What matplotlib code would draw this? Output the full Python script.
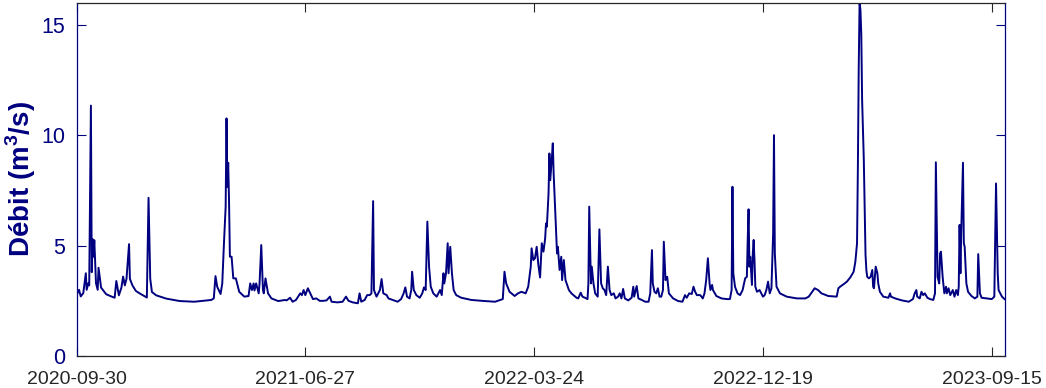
import numpy as np
import matplotlib
matplotlib.use('Agg')
import matplotlib.pyplot as plt
import matplotlib.dates as mdates

# Débit journalier (m3/s), jours comptés depuis le 2020-09-30
start_date = '2020-09-30'
end_date = '2023-09-30'
days = [
    0, 3, 5, 8, 11, 12, 14, 15, 17, 18, 19, 20, 21, 23, 25, 26, 29, 35, 41, 45,
    47, 50, 53, 55, 57, 59, 62, 63, 66, 70, 74, 80, 83, 85, 87, 89, 94, 106, 122,
    139, 159, 162, 164, 166, 170, 172, 174, 176, 177, 178, 179, 180, 181, 183, 185,
    188, 192, 198, 203, 205, 207, 209, 210, 212, 215, 216, 218, 220, 221, 223, 226,
    230, 238, 246, 248, 252, 255, 259, 264, 266, 268, 270, 273, 275, 279, 283, 287,
    291, 295, 299, 301, 308, 314, 318, 321, 326, 332, 334, 336, 340, 343, 346, 348,
    350, 351, 354, 358, 360, 362, 366, 368, 373, 379, 383, 386, 388, 390, 393, 395,
    396, 398, 401, 405, 408, 410, 412, 414, 416, 418, 421, 425, 427, 429, 431, 433,
    434, 436, 438, 439, 441, 443, 445, 448, 454, 466, 482, 494, 503, 505, 507, 511,
    517, 521, 525, 530, 533, 536, 537, 539, 541, 543, 545, 547, 549, 551, 553, 554,
    555, 557, 558, 559, 561, 562, 563, 565, 567, 568, 570, 572, 573, 575, 577, 581,
    584, 590, 592, 595, 597, 600, 603, 604, 605, 607, 608, 610, 612, 615, 617, 619,
    621, 623, 625, 627, 629, 631, 634, 636, 639, 641, 643, 645, 647, 651, 655, 657,
    658, 661, 663, 667, 671, 675, 677, 679, 680, 682, 684, 686, 688, 690, 692, 693,
    695, 697, 699, 704, 710, 715, 718, 720, 723, 726, 728, 730, 732, 736, 739, 741,
    743, 745, 747, 748, 750, 751, 755, 761, 767, 771, 773, 774, 775, 777, 780, 783,
    786, 789, 791, 792, 793, 794, 795, 797, 798, 799, 800, 801, 803, 806, 808, 810,
    812, 814, 816, 818, 820, 822, 823, 824, 826, 830, 838, 850, 860, 864, 868, 871,
    875, 879, 887, 897, 899, 901, 905, 909, 913, 917, 919, 921, 922, 923, 924, 925,
    926, 927, 929, 930, 931, 932, 933, 935, 937, 939, 940, 941, 943, 945, 946, 948,
    952, 958, 960, 961, 966, 974, 982, 987, 989, 991, 992, 995, 997, 999, 1001, 1004,
    1007, 1011, 1013, 1014, 1016, 1018, 1019, 1020, 1022, 1024, 1026, 1027, 1029,
    1031, 1034, 1036, 1038, 1040, 1041, 1042, 1043, 1044, 1046, 1047, 1048, 1050,
    1052, 1056, 1060, 1063, 1064, 1066, 1068, 1074, 1080, 1083, 1085, 1087, 1088,
    1092, 1095,
]
flow = [
    2.76, 3.0, 2.7, 2.85, 3.75, 3.0, 3.3, 3.2, 11.35, 3.8, 5.3, 4.5, 5.25, 3.3, 3.0, 4.0, 3.1, 2.8, 2.7, 2.64,
    3.4, 2.75, 3.1, 3.6, 3.2, 3.5, 5.07, 3.5, 3.2, 2.95, 2.85, 2.72, 2.65, 7.17, 3.5, 2.9, 2.75, 2.6, 2.49,
    2.46, 2.54, 2.61, 3.62, 3.14, 2.81, 3.29, 5.11, 6.77, 10.77, 7.67, 8.76, 7.0, 4.5, 4.5, 3.52,
    3.52, 2.91, 2.69, 2.72, 3.29, 2.99, 3.29, 2.97, 3.29, 2.84, 3.29, 5.03, 2.99, 2.84, 3.52, 2.84,
    2.61, 2.49, 2.54, 2.52, 2.64, 2.46, 2.54, 2.84, 2.76, 2.99, 2.76, 3.07, 2.91, 2.58, 2.61, 2.5,
    2.5, 2.52, 2.69, 2.46, 2.43, 2.46, 2.69, 2.5, 2.43, 2.39, 2.84, 2.46, 2.54, 2.76, 2.76, 2.84,
    7.02, 2.99, 2.69, 2.99, 3.49, 2.84, 2.76, 2.61, 2.54, 2.46, 2.58, 2.84, 3.11, 2.69, 2.61, 2.99,
    3.82, 2.99, 2.76, 2.64, 2.84, 3.11, 2.99, 6.09, 4.05, 3.14, 2.84, 2.69, 2.84, 2.99, 2.76, 3.75,
    3.29, 3.75, 5.11, 3.75, 4.95, 3.75, 2.99, 2.76, 2.64, 2.54, 2.49, 2.46, 2.58, 3.82, 3.29, 2.91,
    2.72, 2.84, 2.91, 2.84, 3.14, 4.05, 4.88, 4.35, 4.43, 4.95, 4.12, 3.56, 5.11, 4.73, 5.33, 6.01,
    5.86, 7.37, 9.18, 7.97, 9.03, 9.64, 8.28, 6.46, 4.65, 4.95, 3.9, 4.5, 3.44, 4.35, 3.44, 2.99,
    2.84, 2.64, 2.61, 2.87, 2.69, 2.64, 2.58, 3.29, 6.77, 3.29, 4.05, 3.29, 2.84, 2.69, 5.74, 3.29,
    3.07, 2.99, 2.76, 4.05, 2.99, 2.76, 2.84, 2.61, 2.69, 2.84, 2.61, 3.04, 2.61, 2.52, 2.64, 3.14,
    2.69, 3.17, 2.61, 2.54, 2.46, 2.46, 2.84, 4.8, 3.29, 2.91, 2.84, 3.07, 2.69, 2.69, 2.99, 5.18,
    3.44, 3.59, 2.84, 2.61, 2.49, 2.46, 2.76, 2.64, 2.84, 2.81, 3.14, 2.91, 2.76, 2.76, 2.61, 2.84,
    3.44, 4.43, 3.29, 2.99, 3.22, 2.99, 2.72, 2.61, 2.58, 2.58, 2.99, 7.67, 3.75, 3.14, 2.84, 2.76,
    2.99, 3.52, 3.59, 5.26, 6.65, 4.05, 4.5, 3.22, 4.65, 5.26, 4.35, 3.14, 2.91, 2.99, 2.84, 2.69,
    2.76, 2.99, 3.37, 2.84, 3.07, 5.56, 10.01, 4.65, 3.14, 2.84, 2.69, 2.61, 2.61, 2.69, 2.91, 3.07,
    2.99, 2.84, 2.72, 2.69, 3.07, 3.14, 3.25, 3.37, 3.56, 3.82, 4.27, 5.11, 8.58, 13.1, 16.0, 15.7,
    14.6, 11.6, 8.88, 6.62, 4.6, 3.9, 3.59, 3.52, 3.59, 3.9, 3.14, 3.07, 4.05, 3.75, 3.29, 2.91,
    2.69, 2.64, 2.84, 2.69, 2.61, 2.52, 2.46, 2.58, 2.84, 2.99, 2.69, 2.61, 2.91, 2.76, 2.84, 2.64,
    2.58, 2.54, 2.84, 8.78, 3.59, 3.29, 4.65, 4.73, 3.59, 2.84, 3.14, 2.84, 3.07,
    2.76, 2.99, 2.69, 2.99, 2.76, 3.14, 5.94, 3.75, 5.71, 8.76, 5.11, 4.95, 3.29,
    2.91, 2.72, 2.61, 2.69, 4.62, 2.84, 2.64, 2.61, 2.58, 2.69, 7.82, 3.75, 2.99,
    2.69, 2.58,
]
tick_step_days = 270

navy = '#000080'
dark = '#262626'

plt.rcParams['font.family'] = ['Liberation Sans', 'DejaVu Sans']
plt.rcParams['mathtext.fontset'] = 'custom'
plt.rcParams['mathtext.rm'] = 'Liberation Sans:bold'
plt.rcParams['mathtext.bf'] = 'Liberation Sans:bold'

t0 = np.datetime64(start_date)
dates = t0 + np.array(days).astype('timedelta64[D]')

fig = plt.figure(figsize=(10.46, 3.88), dpi=100)
ax = fig.add_axes([76.5 / 1046, 32 / 388, 928 / 1046, 353 / 388])

ax.plot(dates, flow, color=navy, linewidth=1.4)

ax.set_xlim(t0, np.datetime64(end_date))
ax.set_ylim(0, 16)
ax.set_yticks([0, 5, 10, 15])
ticks = t0 + np.arange(0, 1095, tick_step_days).astype('timedelta64[D]')
ax.set_xticks(ticks)
ax.xaxis.set_major_formatter(mdates.DateFormatter('%Y-%m-%d'))

ax.tick_params(axis='x', direction='in', length=6.5, width=0.8, colors=dark,
               labelsize=14, pad=11, top=True)
ax.tick_params(axis='y', direction='in', length=6.5, width=0.8, colors=navy,
               labelsize=15.5, pad=8, right=True)

for side in ['left', 'right']:
    ax.spines[side].set_color(navy)
    ax.spines[side].set_linewidth(0.9)
for side in ['top', 'bottom']:
    ax.spines[side].set_color(dark)
    ax.spines[side].set_linewidth(0.9)

ax.set_ylabel(r'Débit (m$^{\mathbf{3}}$/s)', fontsize=20, fontweight='bold', color=navy)
ax.yaxis.set_label_coords(-0.041, 0.5)

fig.savefig('out.png', dpi=100)
